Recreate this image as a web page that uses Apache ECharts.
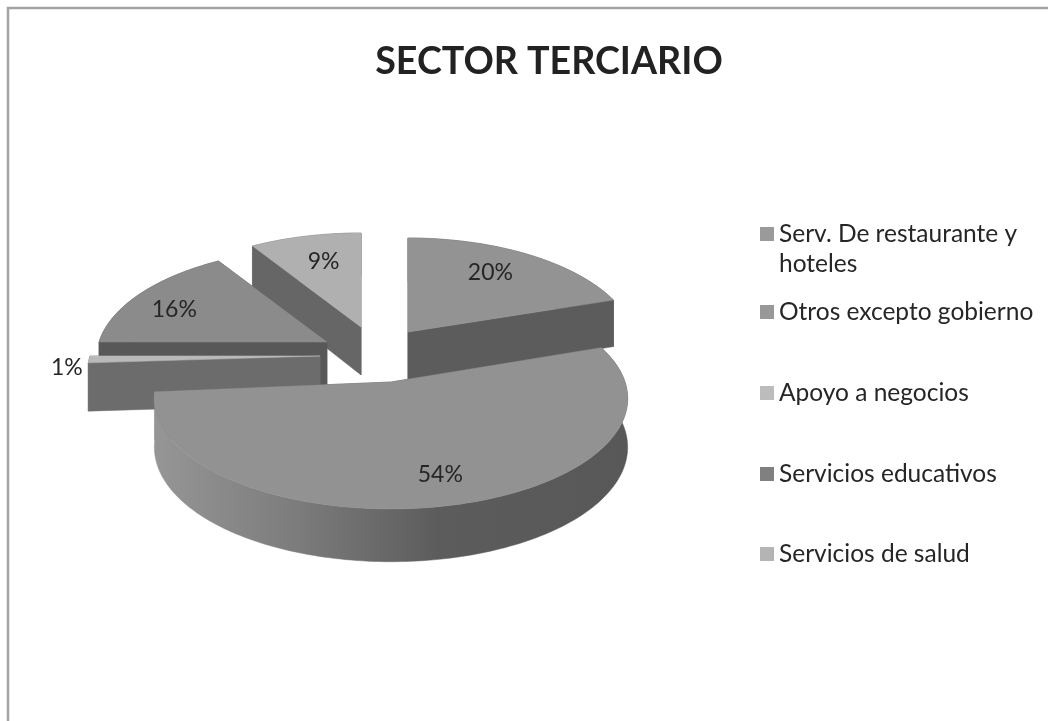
<!DOCTYPE html>
<html><head><meta charset="utf-8">
<script src="https://cdn.jsdelivr.net/npm/echarts@6/dist/echarts.min.js"></script>
<style>html,body{margin:0;padding:0;background:#fff}#c{width:1048px;height:721px}</style>
</head><body><div id="c"></div>
<script>
const titleText = 'SECTOR TERCIARIO';
const categories = ['Serv. De restaurante y hoteles','Otros excepto gobierno','Apoyo a negocios','Servicios educativos','Servicios de salud'];
const shares = [20,54,1,16,9];

// presentation only
const legendWrapped = ['Serv. De restaurante y\nhoteles',null,null,null,null];
const topColors  = ['#939393','#929292','#b9b9b9','#8b8b8b','#b0b0b0'];
const sideColors = ['#5c5c5c','#5a5a5a','#6c6c6c','#585858','#666666'];
const legendColors = ['#9a9a9a','#989898','#bcbcbc','#808080','#b4b4b4'];
const apexes = [[408,332],[391,382],[320,356],[327,342],[361,327]];
const radii = [226,234,230,228,228];
const sliceTurn = [0,-1.5,0,0,0];
const labelFrac = [.75,.74,1.1,.82,.68];
const labelNudge = [[-9,1],[8,5],[1,8],[2,8],[2,-1]];
const drawZ = [3,5,4,2,1];
const legendTops = [214,292,373,454,534];
const RY = 108, K = 0.149, DEPTH = 48, FONT = 'Lato';

const total = shares.reduce((a,b)=>a+b,0);
function project(i,theta,f){
  const u=Math.sin(theta)*f, v=Math.cos(theta)*f, s=1/(1+K*v);
  return [apexes[i][0]+radii[i]*u*s, apexes[i][1]-RY*v*s, v];
}
const down=(p)=>[p[0],p[1]+DEPTH*(1-0.1*p[2])];
function slice(i,value){
  let before=0; for(let k=0;k<i;k++) before+=shares[k];
  const turn=sliceTurn[i]*Math.PI/180;
  const t1=before/total*2*Math.PI+turn, t2=(before+value)/total*2*Math.PI+turn;
  const arc=[]; const n=Math.max(6,Math.ceil((t2-t1)/0.02));
  for(let j=0;j<=n;j++) arc.push(project(i,t1+(t2-t1)*j/n,1));
  const apex=project(i,0,0);
  const poly=(pts,fill)=>({type:'polygon',shape:{points:pts.map(p=>[p[0],p[1]])},style:{fill:fill,stroke:fill,lineWidth:0.5}});
  const rimFill = i===1 ? new echarts.graphic.LinearGradient(0,0,1,0,[
    {offset:0,color:'#969696'},{offset:.3,color:'#7c7c7c'},{offset:.6,color:'#5c5c5c'},{offset:1,color:'#585858'}]) : sideColors[i];
  const kids=[
    poly([apex,arc[0],down(arc[0]),down(apex)],sideColors[i]),
    poly([apex,arc[n],down(arc[n]),down(apex)],sideColors[i]),
    poly(arc.concat(arc.slice().reverse().map(down)),rimFill),
    poly([apex].concat(arc),topColors[i])
  ];
  const lp=project(i,(t1+t2)/2,labelFrac[i]);
  kids.push({type:'text',z2:10,style:{x:lp[0]+labelNudge[i][0],y:lp[1]+labelNudge[i][1],text:value+'%',
    fill:'#262626',font:'23px '+FONT,textAlign:'center',textVerticalAlign:'middle'}});
  return {type:'group',children:kids};
}
const option={
  animation:false,
  backgroundColor:'#fff',
  title:{text:titleText,left:544,top:38,textAlign:'center',textStyle:{fontFamily:FONT,fontWeight:'bold',fontSize:37.6,color:'#222'}},
  graphic:[
    {type:'rect',silent:true,shape:{x:8,y:8,width:1060,height:730},style:{fill:'none',stroke:'#a3a3a3',lineWidth:2.5}}
  ],
  legend:categories.map((c,i)=>({
    data:[c],left:755,top:legendTops[i],selectedMode:false,
    itemWidth:14,itemHeight:legendWrapped[i]?44:14,
    icon:legendWrapped[i]?'path://M0 0H14V14H0Z M0 44L0.01 44':'rect',
    itemStyle:{color:legendColors[i]},
    formatter:()=>legendWrapped[i]||c,
    textStyle:{fontFamily:FONT,fontSize:24.5,color:'#262626',lineHeight:30}
  })),
  series:categories.map((c,i)=>({
    type:'custom',name:c,coordinateSystem:'none',z:drawZ[i],silent:true,
    itemStyle:{color:legendColors[i]},
    data:[shares[i]],
    renderItem:(params,api)=>slice(i,api.value(0))
  }))
};
echarts.init(document.getElementById('c')).setOption(option);
</script></body></html>
